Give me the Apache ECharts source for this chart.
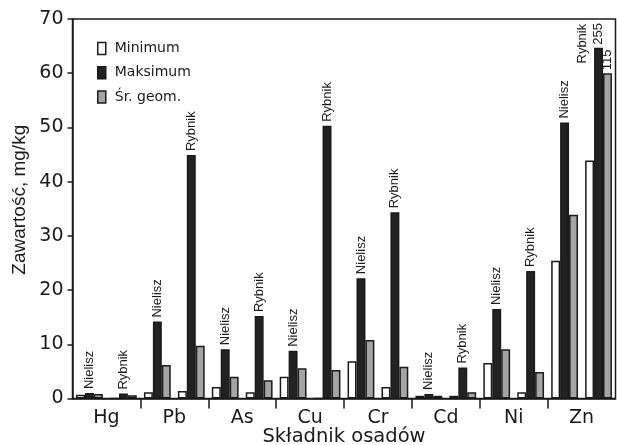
<!DOCTYPE html>
<html>
<head>
<meta charset="utf-8">
<script src="https://cdn.jsdelivr.net/npm/echarts@6/dist/echarts.min.js"></script>
<style>
html,body{margin:0;padding:0;background:#fff;}
#chart{width:617px;height:445px;}
</style>
</head>
<body>
<div id="chart"></div>
<script>
// ---- data ----
const elements = ['Hg', 'Pb', 'As', 'Cu', 'Cr', 'Cd', 'Ni', 'Zn'];
const sites = ['Nielisz', 'Rybnik'];
const subCategories = ['Hg-N','Hg-R','Pb-N','Pb-R','As-N','As-R','Cu-N','Cu-R','Cr-N','Cr-R','Cd-N','Cd-R','Ni-N','Ni-R','Zn-N','Zn-R'];
const minVals = [0.7, 0, 1.15, 1.4, 2.1, 1.15, 4.0, 0, 6.85, 2.1, 0.5, 0.5, 6.55, 1.15, 25.4, 43.9];
const maxVals = [1.0, 0.9, 14.2, 44.9, 9.1, 15.2, 8.8, 50.3, 22.2, 34.35, 0.83, 5.7, 16.5, 23.5, 50.9, 64.7];
const gmVals  = [0.83, 0.6, 6.2, 9.75, 4.0, 3.35, 5.6, 5.25, 10.8, 5.85, 0.5, 1.15, 9.1, 4.9, 33.9, 60.0];
const minLabels = ['','','','','','','','','','','','','','','','Rybnik'];
const maxLabels = ['Nielisz','Rybnik','Nielisz','Rybnik','Nielisz','Rybnik','Nielisz','Rybnik','Nielisz','Rybnik','Nielisz','Rybnik','Nielisz','Rybnik','Nielisz','255'];
const gmLabels  = ['','','','','','','','','','','','','','','','115'];
const seriesNames = ['Minimum', 'Maksimum', 'Śr. geom.'];
const yTicks = [0, 10, 20, 30, 40, 50, 60, 70];
const elementBoundaries = [1, 2, 3, 4, 5, 6, 7];
const elementCenters = [0.5, 1.5, 2.5, 3.5, 4.5, 5.5, 6.5, 7.5];

// ---- styles ----
const FONT = 'Liberation Sans, Arial, sans-serif';
const WIDE = 'DejaVu Sans, Liberation Sans, sans-serif';
const INK = '#1a1a1a';
const fills = ['#ffffff', '#222222', '#a4a4a4'];

const baseLabel = {
  show: true, position: 'top', distance: 4, rotate: 90,
  align: 'left', verticalAlign: 'middle',
  fontFamily: FONT, fontSize: 13, color: INK
};

function mkData(vals, labels, extra) {
  return vals.map((v, i) => {
    const lab = labels[i];
    if (!lab) return { value: v, label: { show: false } };
    const l = Object.assign({}, baseLabel, { formatter: lab }, (extra && extra[i]) || {});
    return { value: v, label: l };
  });
}

// offset is applied in the rotated label frame
const minExtra = {15: {offset: [93, -7]}};
const maxExtra = {15: {distance: 3}};
const gmExtra = {15: {distance: 3}};

const chart = echarts.init(document.getElementById('chart'), null, {renderer: 'canvas'});
const barStyle = (i) => ({ color: fills[i], borderColor: INK, borderWidth: 1.5 });

chart.setOption({
  animation: false,
  backgroundColor: '#ffffff',
  textStyle: { fontFamily: FONT },
  grid: {
    left: 72.5, right: 1.5, top: 19, bottom: 46.5,
    outerBoundsMode: 'none', containLabel: false,
    show: true, borderColor: INK, borderWidth: 1.5, backgroundColor: 'transparent'
  },
  legend: {
    orient: 'vertical', left: 92, top: 36.5,
    itemWidth: 8, itemHeight: 12, itemGap: 10.25,
    icon: 'rect',
    textStyle: { fontFamily: WIDE, fontSize: 14, color: INK, lineHeight: 14, padding: [0, 0, 0, 4] },
    data: seriesNames.map((n, i) => ({ name: n, itemStyle: barStyle(i) }))
  },
  xAxis: [
    {
      type: 'category', data: subCategories, position: 'bottom',
      axisLine: { show: false }, axisTick: { show: false }, axisLabel: { show: false },
      splitLine: { show: false }
    },
    {
      type: 'value', min: 0, max: 8, interval: 1, position: 'bottom',
      axisLine: { show: true, lineStyle: { color: INK, width: 1.5 } },
      axisTick: { show: true, length: 10, customValues: elementBoundaries, lineStyle: { color: INK, width: 1.5 } },
      axisLabel: {
        show: true, customValues: elementCenters, margin: 10,
        fontFamily: WIDE, fontSize: 19, color: INK,
        formatter: (v) => elements[Math.floor(v)]
      },
      splitLine: { show: false },
      name: 'Składnik osadów', nameLocation: 'middle', nameGap: 28, nameMoveOverlap: false,
      nameTextStyle: { fontFamily: WIDE, fontSize: 19.5, color: INK }
    }
  ],
  yAxis: {
    type: 'value', min: 0, max: 70, interval: 10,
    axisLine: { show: true, lineStyle: { color: INK, width: 1.5 } },
    axisTick: { show: true, length: 5, inside: false, lineStyle: { color: INK, width: 1.5 } },
    axisLabel: { margin: 9, fontFamily: WIDE, fontSize: 19, color: INK,
      formatter: (v) => (yTicks.indexOf(v) >= 0 ? String(v) : '') },
    splitLine: { show: false },
    name: 'Zawartość, mg/kg', nameLocation: 'middle', nameGap: 43, nameRotate: 90, nameMoveOverlap: false,
    nameTextStyle: { fontFamily: FONT, fontSize: 19, color: INK, padding: [0, 0, 0, 18] }
  },
  series: [
    { name: seriesNames[0], type: 'bar', xAxisIndex: 0, barGap: '0%', barCategoryGap: '21%',
      itemStyle: barStyle(0), data: mkData(minVals, minLabels, minExtra) },
    { name: seriesNames[1], type: 'bar', xAxisIndex: 0, barGap: '0%', barCategoryGap: '21%',
      itemStyle: barStyle(1), data: mkData(maxVals, maxLabels, maxExtra) },
    { name: seriesNames[2], type: 'bar', xAxisIndex: 0, barGap: '0%', barCategoryGap: '21%',
      itemStyle: barStyle(2), data: mkData(gmVals, gmLabels, gmExtra) }
  ]
});
</script>
</body>
</html>
